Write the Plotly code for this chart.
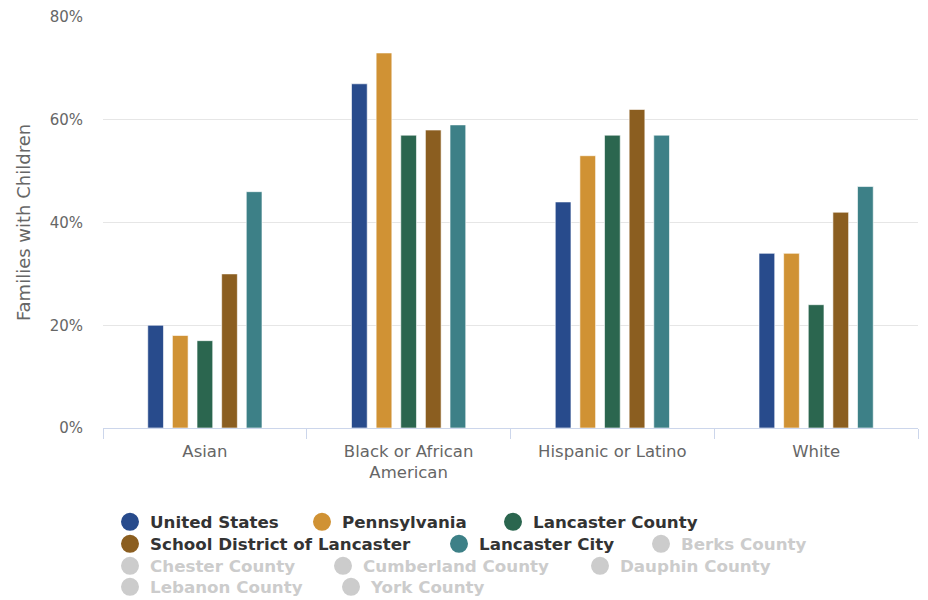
import plotly.graph_objects as go

# Race / ethnicity groups on the x axis
categories = ["Asian", "Black or African<br>American", "Hispanic or Latino", "White"]

# Share of families with children (%), per geography
united_states = [20, 67, 44, 34]
pennsylvania = [18, 73, 53, 34]
lancaster_county = [17, 57, 57, 24]
school_district = [30, 58, 62, 42]
lancaster_city = [46, 59, 57, 47]

shown_names = ["United States", "Pennsylvania", "Lancaster County",
               "School District of Lancaster", "Lancaster City"]
shown_values = [united_states, pennsylvania, lancaster_county,
                school_district, lancaster_city]
shown_colors = ["#284b8c", "#d09234", "#2b664f", "#8b5e20", "#3d8087"]

# Geographies switched off (legend entries only)
hidden_names = ["Berks County", "Chester County", "Cumberland County",
                "Dauphin County", "Lebanon County", "York County"]

# ---- page geometry (pixels) ----
W, H = 928, 600
M_L, M_R, M_T, M_B = 103, 10, 17, 172

FONT = "DejaVu Sans"

# Legend entry anchor points: marker centre in page pixels
legend_slots = {
    "United States": (130, 522), "Pennsylvania": (322, 522), "Lancaster County": (513, 522),
    "School District of Lancaster": (130, 544), "Lancaster City": (459, 544),
    "Berks County": (661, 544),
    "Chester County": (130, 566), "Cumberland County": (343, 566), "Dauphin County": (600, 566),
    "Lebanon County": (130, 587), "York County": (351, 587),
}


def container_x(px):
    return px / W


def container_y(py):
    return 1 - py / H


fig = go.Figure()

legend_layouts = {}
order = shown_names + hidden_names
legend_ids = {}
for i, name in enumerate(order):
    lid = "legend" if i == 0 else f"legend{i + 1}"
    legend_ids[name] = lid
    cx, cy = legend_slots[name]
    text_color = "#333333" if name in shown_names else "#cccccc"
    legend_layouts[lid] = dict(
        xref="container", yref="container",
        x=container_x(cx - 20), y=container_y(cy), xanchor="left", yanchor="middle",
        orientation="h", bgcolor="rgba(0,0,0,0)", borderwidth=0,
        font=dict(family=FONT, size=16.7, color=text_color, weight="bold"),
    )

# Bars
for name, vals, col in zip(shown_names, shown_values, shown_colors):
    fig.add_trace(go.Bar(
        x=categories, y=vals, name=name, legendgroup=name, showlegend=False,
        marker=dict(color=col, line=dict(color="rgba(255,255,255,0.6)", width=1)),
        hovertemplate="%{x}<br>" + name + ": %{y}%<extra></extra>",
    ))

# Round legend markers for the plotted geographies
for name, col in zip(shown_names, shown_colors):
    fig.add_trace(go.Scatter(
        x=[None], y=[None], mode="markers", name=name, legendgroup=name,
        legend=legend_ids[name], showlegend=True,
        marker=dict(symbol="circle", size=16, color=col, line=dict(color=col, width=2)),
    ))

# Greyed-out legend entries
for name in hidden_names:
    fig.add_trace(go.Scatter(
        x=[None], y=[None], mode="markers", name=name,
        legend=legend_ids[name], showlegend=True,
        marker=dict(symbol="circle", size=16, color="#cccccc",
                    line=dict(color="#cccccc", width=2)),
    ))

fig.update_layout(
    width=W, height=H, autosize=False,
    margin=dict(l=M_L, r=M_R, t=M_T, b=M_B, pad=0, autoexpand=False),
    paper_bgcolor="white", plot_bgcolor="white",
    font=dict(family=FONT, color="#666666"),
    barmode="group", bargap=0.3956, bargroupgap=0.362,
    xaxis=dict(
        type="category", categoryorder="array", categoryarray=categories,
        showline=True, linecolor="#ccd6eb", linewidth=1,
        ticks="outside", tickson="boundaries", ticklen=10, tickcolor="#ccd6eb",
        tickwidth=1, showgrid=False, zeroline=False,
        ticklabelstandoff=8,
        tickfont=dict(family=FONT, size=16.5, color="#666666"),
        automargin=False,
    ),
    yaxis=dict(
        range=[0, 80], dtick=20, tick0=0, ticksuffix="%",
        showgrid=True, gridcolor="#e6e6e6", gridwidth=1,
        zeroline=False, showline=False, ticks="",
        ticklabelstandoff=19,
        tickfont=dict(family=FONT, size=15, color="#666666"),
        title=dict(text="Families with Children", standoff=14,
                   font=dict(family=FONT, size=18, color="#666666")),
        automargin=False,
    ),
    **legend_layouts,
)

fig.write_html("out.html")
